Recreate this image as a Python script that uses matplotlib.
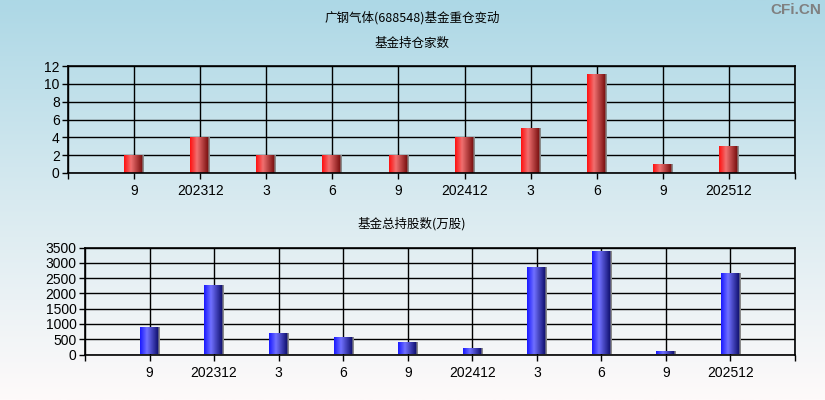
import numpy as np
import matplotlib
matplotlib.use("Agg")
import matplotlib.pyplot as plt
from matplotlib.colors import LinearSegmentedColormap

plt.rcParams["font.family"] = ["Liberation Sans Narrow", "Liberation Sans", "Noto Sans CJK SC", "DejaVu Sans"]

# 数据
periods = ["9", "202312", "3", "6", "9", "202412", "3", "6", "9", "202512"]
fund_count = [2, 4, 2, 2, 2, 4, 5, 11, 1, 3]
fund_shares = [860, 2233, 664, 534, 370, 185, 2821, 3344, 76, 2625]

CJK = ["Noto Sans CJK SC", "DejaVu Sans"]

fig = plt.figure(figsize=(8.25, 4.0), dpi=100)

# 背景渐变
bg = fig.add_axes([0, 0, 1, 1], zorder=-10)
bg_cmap = LinearSegmentedColormap.from_list("bg", [(0.0, "#add8e6"), (0.5, "#d8eaf0"), (1.0, "#fefafa")])
bg.imshow(np.linspace(0, 1, 256).reshape(-1, 1), cmap=bg_cmap, aspect="auto", extent=[0, 1, 0, 1])
bg.set_axis_off()

red_cmap = LinearSegmentedColormap.from_list("r", [
    (0.0, "#ff1010"), (0.35, "#f07070"), (0.92, "#7a1010"), (0.93, "#8a8a8a"), (1.0, "#8a8a8a")])
blue_cmap = LinearSegmentedColormap.from_list("b", [
    (0.0, "#1a1aff"), (0.35, "#7070ff"), (0.92, "#101070"), (0.93, "#8a8a8a"), (1.0, "#8a8a8a")])


def draw_panel(rect, values, ymax, ystep, cmap):
    ax = fig.add_axes(rect)
    ax.patch.set_alpha(0)
    x = np.arange(1, len(values) + 1)
    w = 0.3
    grad = np.linspace(0, 1, 64).reshape(1, -1)
    for xi, v in zip(x, values):
        ax.imshow(grad, cmap=cmap, aspect="auto", extent=[xi - w / 2, xi + w / 2, 0, v],
                  zorder=3, interpolation="bilinear")
    ax.set_xlim(0, len(values) + 1)
    ax.set_ylim(0, ymax)
    ax.set_xticks(np.arange(0, len(values) + 2))
    ax.set_xticklabels([""] + periods + [""])
    ax.set_yticks(np.arange(0, ymax + 1, ystep))
    ax.grid(True, color="black", linewidth=1.0, zorder=1)
    for s in ax.spines.values():
        s.set_linewidth(1.2)
        s.set_zorder(4)
    ax.tick_params(axis="both", length=4, width=1, color="black", labelsize=10, pad=2)
    ax.tick_params(axis="x", pad=4)
    return ax


ax1 = draw_panel([68 / 825, 1 - 173 / 400, 727 / 825, 107 / 400], fund_count, 12, 2, red_cmap)
ax2 = draw_panel([85 / 825, 1 - 354.5 / 400, 710 / 825, 107 / 400], fund_shares, 3500, 500, blue_cmap)

fig.text(412 / 825, 1 - 18 / 400, "广钢气体(688548)基金重仓变动", ha="center", va="center",
         fontsize=9, family=CJK)
fig.text(412 / 825, 1 - 43 / 400, "基金持仓家数", ha="center", va="center", fontsize=9, family=CJK)
fig.text(412 / 825, 1 - 224 / 400, "基金总持股数(万股)", ha="center", va="center", fontsize=9, family=CJK)
fig.text(821 / 825, 1 - 10 / 400, "CFi.CN", ha="right", va="center", fontsize=11,
         color="#808080", fontweight="bold", family=["Liberation Sans", "DejaVu Sans"])

fig.savefig("out.png", dpi=100)
